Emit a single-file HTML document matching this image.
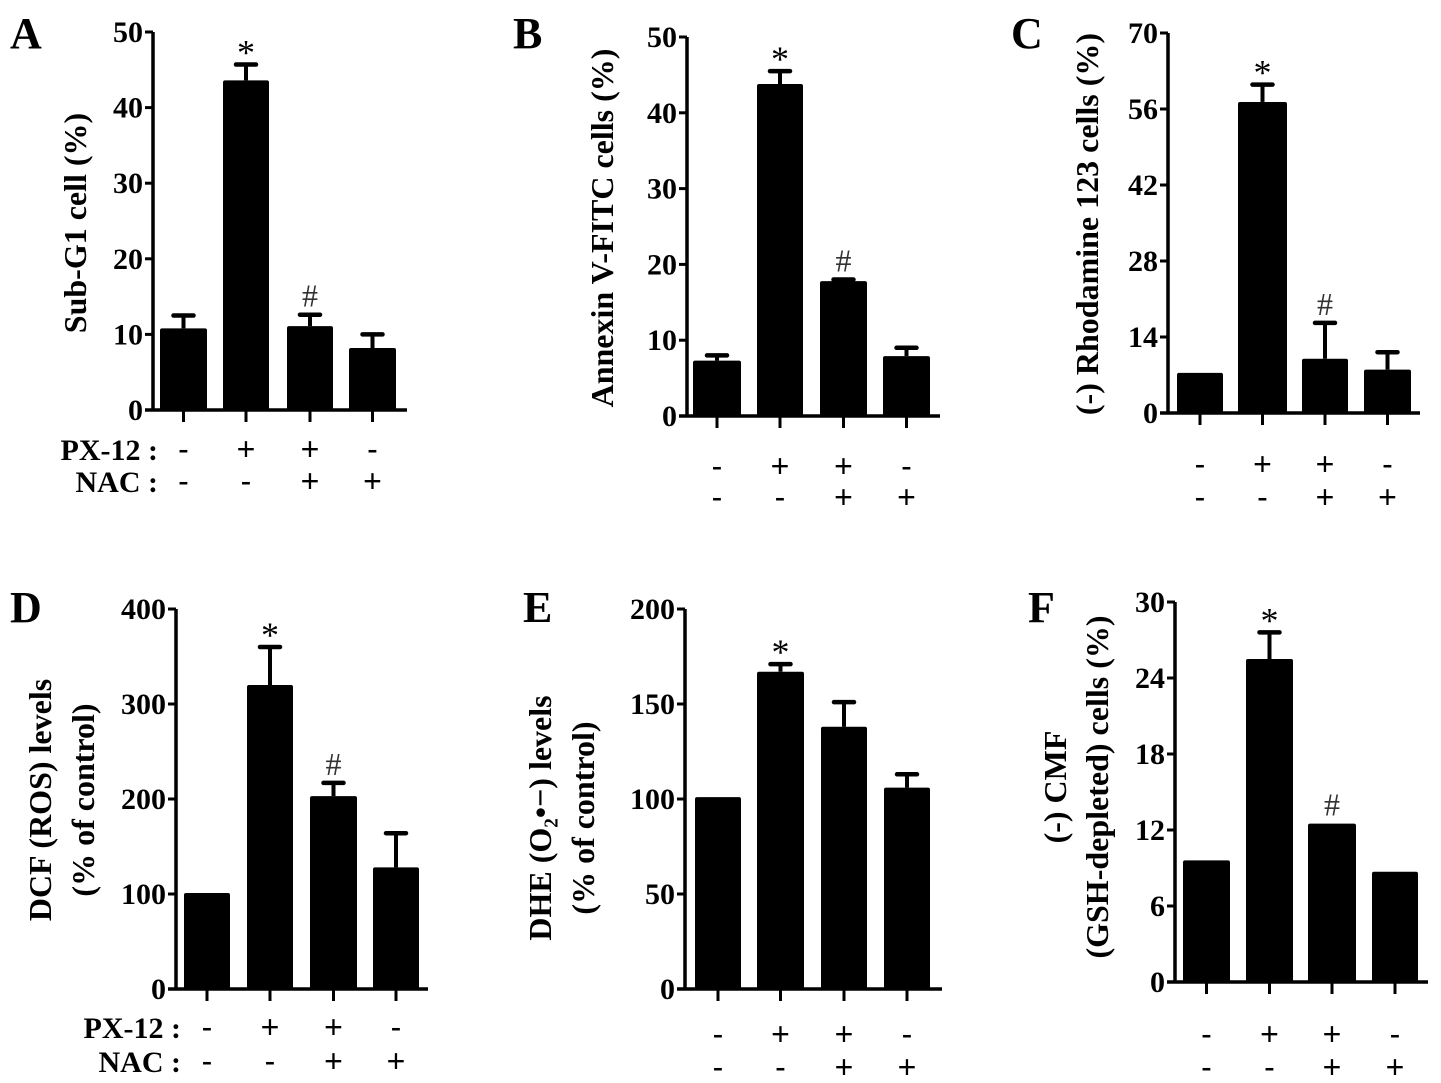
<!DOCTYPE html>
<html><head><meta charset="utf-8"><style>
html,body{margin:0;padding:0;background:#fff;}
svg{display:block;font-family:"Liberation Serif",serif;}
</style></head><body>
<svg id="fig" width="1441" height="1083" viewBox="0 0 1441 1083" xmlns="http://www.w3.org/2000/svg"></svg>
<script>
// ---- data arrays ----
const groups = ["ctrl","px12","px12_nac","nac"];
const px12Signs = ["-","+","+","-"];
const nacSigns = ["-","-","+","+"];
const valuesA = [10.8, 43.6, 11.1, 8.2];
const errorsA = [1.7, 2.1, 1.5, 1.8];
const ticksA = [0,10,20,30,40,50];
const valuesB = [7.3, 43.8, 17.8, 7.9];
const errorsB = [0.7, 1.7, 0.2, 1.1];
const ticksB = [0,10,20,30,40,50];
const valuesC = [7.4, 57.3, 10.0, 8.0];
const errorsC = [0, 3.2, 6.6, 3.2];
const ticksC = [0,14,28,42,56,70];
const valuesD = [101, 320, 203, 128];
const errorsD = [0, 40, 14, 36];
const ticksD = [0,100,200,300,400];
const valuesE = [101, 167, 138, 106];
const errorsE = [0, 4, 13, 7];
const ticksE = [0,50,100,150,200];
const valuesF = [9.6, 25.5, 12.5, 8.7];
const errorsF = [0, 2.1, 0, 0];
const ticksF = [0,6,12,18,24,30];
const marksA = ["","*","#",""];
const marksB = ["","*","#",""];
const marksC = ["","*","#",""];
const marksD = ["","*","#",""];
const marksE = ["","*","",""];
const marksF = ["","*","#",""];

const NS="http://www.w3.org/2000/svg";
const svg=document.getElementById('fig');
function mk(tag,attrs,parent){const e=document.createElementNS(NS,tag);for(const k in attrs)e.setAttribute(k,attrs[k]);(parent||svg).appendChild(e);return e;}

const panels=[
 {id:"a",letter:"A",lx:10,ly:48,ax:153,top:32,bot:410,end:407,bars:[[160,207],[223,269],[287,333],[349,396]],vals:valuesA,errs:errorsA,ticks:ticksA,marks:marksA,row1:450,row2:482,rowLabels:true,labels:["Sub-G1  cell (%)"],lxs:[75],lyc:223},
 {id:"b",letter:"B",lx:513,ly:48,ax:687,top:37,bot:416,end:940,bars:[[693,741],[757,803],[820,867],[883,930]],vals:valuesB,errs:errorsB,ticks:ticksB,marks:marksB,row1:467,row2:498,rowLabels:false,labels:["Annexin V-FITC cells (%)"],lxs:[602],lyc:228},
 {id:"c",letter:"C",lx:1011,ly:48,ax:1168,top:33,bot:413,end:1420,bars:[[1177,1223],[1238,1287],[1302,1348],[1364,1411]],vals:valuesC,errs:errorsC,ticks:ticksC,marks:marksC,row1:465,row2:498,rowLabels:false,labels:["(-) Rhodamine 123 cells (%)"],lxs:[1087],lyc:224},
 {id:"d",letter:"D",lx:10,ly:622,ax:176,top:609,bot:989,end:428,bars:[[184,230],[247,293],[310,357],[373,419]],vals:valuesD,errs:errorsD,ticks:ticksD,marks:marksD,row1:1028,row2:1062,rowLabels:true,labels:["DCF (ROS) levels","(% of control)"],lxs:[40,83],lyc:800},
 {id:"e",letter:"E",lx:523,ly:622,ax:685,top:609,bot:989,end:942,bars:[[695,741],[757,804],[821,867],[884,930]],vals:valuesE,errs:errorsE,ticks:ticksE,marks:marksE,row1:1035,row2:1068,rowLabels:false,labels:["DHE (O\u2082\u2022\u2212) levels","(%  of control)"],lxs:[540,583],lyc:818},
 {id:"f",letter:"F",lx:1028,ly:622,ax:1175,top:602,bot:982,end:1428,bars:[[1183,1230],[1246,1293],[1308,1356],[1372,1418]],vals:valuesF,errs:errorsF,ticks:ticksF,marks:marksF,row1:1035,row2:1068,rowLabels:false,labels:["(-) CMF","(GSH-depleted) cells (%)"],lxs:[1055,1097],lyc:787}
];

panels.forEach(p=>{
  const g=mk('g',{});
  
  
  const max=p.ticks[p.ticks.length-1];
  const y=v=>p.bot-(v/max)*(p.bot-p.top);
  const t=mk('text',{x:p.lx,y:p.ly,'font-size':44,'font-weight':'bold'},g);t.textContent=p.letter;
  
  
  p.vals.forEach((v,i)=>{
    const [x0,x1]=p.bars[i];const cx=(x0+x1)/2;
    const r=mk('rect',{x:x0,y:y(v),width:x1-x0,height:p.bot-y(v),fill:'#000',rx:2},g);
    
    
    const e=p.errs[i];
    if(e>0){
      const ey=y(v+e);
      const l=mk('line',{x1:cx,x2:cx,y1:y(v),y2:ey,stroke:'#000','stroke-width':4},g);
      
      
      const c=mk('line',{x1:cx-10,x2:cx+10,y1:ey,y2:ey,stroke:'#000','stroke-width':4.5,'stroke-linecap':'round'},g);
      
      
    }
    if(p.marks[i]){
      const my=y(v+e)-8;
      const star=p.marks[i]==="*";
      const m=mk('text',{x:cx,y:star?my+8:my,'text-anchor':'middle','font-size':star?36:32,fill:star?'#000':'#333'},g);
      m.textContent=p.marks[i];
      
      
    }
    const tk=mk('line',{x1:cx,x2:cx,y1:p.bot,y2:p.bot+12,stroke:'#000','stroke-width':3},g);
    
    
    const s1=mk('text',{x:cx,y:p.row1+10,'text-anchor':'middle','font-size':32,'font-family':'Liberation Sans, sans-serif'},g);
    s1.textContent=px12Signs[i];
    
    
    const s2=mk('text',{x:cx,y:p.row2+10,'text-anchor':'middle','font-size':32,'font-family':'Liberation Sans, sans-serif'},g);
    s2.textContent=nacSigns[i];
    
    
  });
  const ya=mk('line',{x1:p.ax,x2:p.ax,y1:p.top,y2:p.bot+1.5,stroke:'#000','stroke-width':3.5},g);
  
  
  const xa=mk('line',{x1:p.ax-8,x2:p.end,y1:p.bot,y2:p.bot,stroke:'#000','stroke-width':3.5},g);
  
  
  p.ticks.forEach(tv=>{
    const l=mk('line',{x1:p.ax-8,x2:p.ax,y1:y(tv),y2:y(tv),stroke:'#000','stroke-width':3},g);
    
    
    const tl=mk('text',{x:p.ax-10,y:y(tv)+10,'text-anchor':'end','font-size':30,'font-weight':'bold'},g);
    tl.textContent=tv;
    
    
  });
  if(p.rowLabels){
    const r1=mk('text',{x:p.ax+5,y:p.row1+10,'text-anchor':'end','font-size':30,'font-weight':'bold'},g);
    r1.textContent="PX-12 :";
    
    
    const r2=mk('text',{x:p.ax+5,y:p.row2+10,'text-anchor':'end','font-size':30,'font-weight':'bold'},g);
    r2.textContent="NAC :";
    
    
  }
  p.labels.forEach((lab,k)=>{
    const lx=p.lxs[k];
    const tl=mk('text',{x:lx,y:p.lyc,'text-anchor':'middle','font-size':32,'font-weight':'bold',transform:`rotate(-90 ${lx} ${p.lyc}) translate(0 11)`},g);
    tl.textContent=lab;
    
    
  });
});
</script>
</body></html>
